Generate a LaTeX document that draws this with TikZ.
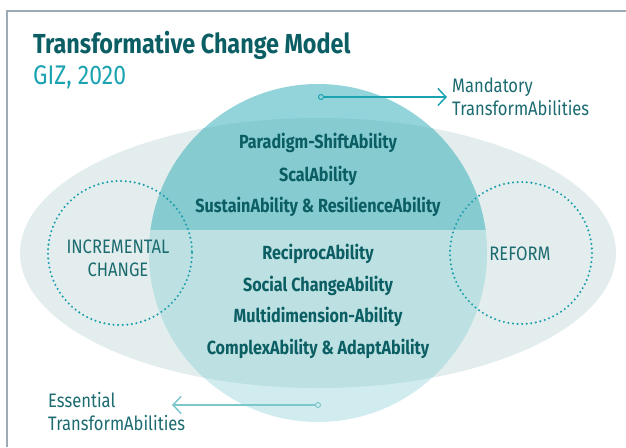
\documentclass[tikz,border=0pt]{standalone}
\usepackage{fontspec}
\setmainfont{Fira Sans}
\newfontfamily\condfont[FakeStretch=0.85]{Fira Sans}
\usetikzlibrary{arrows.meta,positioning}
\definecolor{frameg}{HTML}{9EAAB4}
\definecolor{ellg}{HTML}{E3EDED}
\definecolor{topout}{HTML}{93D4DB}
\definecolor{topin}{HTML}{85CBD0}
\definecolor{botin}{HTML}{BDE1E2}
\definecolor{botout}{HTML}{D1ECEE}
\definecolor{darkteal}{HTML}{0B5E63}
\definecolor{midteal}{HTML}{1B6B70}
\definecolor{gizteal}{HTML}{1BA3B1}
\definecolor{dotteal}{HTML}{1A9EAD}
\definecolor{arrlight}{HTML}{7CC7CC}
\tikzset{
    ability/.style={font=\condfont\bfseries\fontsize{19}{21}\selectfont, text=darkteal, inner sep=0pt, anchor=base},
    sidetext/.style={font=\condfont\fontsize{19.5}{23}\selectfont, text=midteal, inner sep=0pt, align=left},
    ringtext/.style={font=\condfont\fontsize{19.5}{23}\selectfont, text=midteal, inner sep=0pt, align=center},
    ring/.style={draw=dotteal, line width=2.3pt, line cap=round, dash pattern=on 0pt off 4.6pt},
    pin/.style={circle, draw, line width=1pt, minimum size=5pt, inner sep=0pt}
}
\begin{document}
\begin{tikzpicture}[x=1pt,y=-1pt]
    \useasboundingbox (0,0) rectangle (626,447);
    \draw[frameg, line width=2pt] (7,447) -- (7,11) -- (626,11);
    % title
    \node[font=\condfont\bfseries\fontsize{27.5}{30}\selectfont, text=darkteal, anchor=base west, inner sep=0pt] (title) at (33,53) {Transformative Change Model};
    \node[font=\condfont\fontsize{27}{30}\selectfont, text=gizteal, anchor=base west, inner sep=0pt] (source) at (33,84) {GIZ, 2020};
    % ellipse and circle
    \fill[ellg] (318,253) ellipse [x radius=298, y radius=135];
    \begin{scope}
        \clip (0,0) rectangle (626,230);
        \fill[topout] (318,253) circle [radius=169];
    \end{scope}
    \begin{scope}
        \clip (0,230) rectangle (626,447);
        \fill[botout] (318,253) circle [radius=169];
    \end{scope}
    \begin{scope}
        \clip (318,253) ellipse [x radius=298, y radius=135];
        \clip (0,0) rectangle (626,230);
        \fill[topin] (318,253) circle [radius=169];
    \end{scope}
    \begin{scope}
        \clip (318,253) ellipse [x radius=298, y radius=135];
        \clip (0,230) rectangle (626,447);
        \fill[botin] (318,253) circle [radius=169];
    \end{scope}
    \draw[ring] (120,253) circle [radius=72];
    \draw[ring] (521,253) circle [radius=71];
    \node[ringtext] (incr) at (118,258) {INCREMENTAL\\CHANGE};
    \node[ringtext] (reform) at (520,254) {REFORM};
    % abilities
    \node[ability] (shift) at (318,148) {Paradigm-ShiftAbility};
    \node[ability] (scal) at (318,181) {ScalAbility};
    \node[ability] (sustain) at (318,212) {SustainAbility \& ResilienceAbility};
    \node[ability] (recip) at (318,259) {ReciprocAbility};
    \node[ability] (social) at (318,291) {Social ChangeAbility};
    \node[ability] (multi) at (318,322) {Multidimension-Ability};
    \node[ability] (complex) at (318,354) {ComplexAbility \& AdaptAbility};
    % callouts
    \node[sidetext, anchor=base west] (mand) at (452,115) {Mandatory\\TransformAbilities};
    \node[pin, draw=gizteal] (mdot) at (321,97) {};
    \draw[gizteal, line width=1.5pt, -{Straight Barb[length=8pt, width=17pt]}] (mdot) -- (447,97);
    \node[sidetext, anchor=base west] (ess) at (48,430) {Essential\\TransformAbilities};
    \node[pin, draw=arrlight] (edot) at (318,405) {};
    \coordinate (etip) at (172,405);
    \draw[arrlight, line width=1.5pt, -{Straight Barb[length=8pt, width=17pt]}] (edot) -- (etip);
\end{tikzpicture}
\end{document}
